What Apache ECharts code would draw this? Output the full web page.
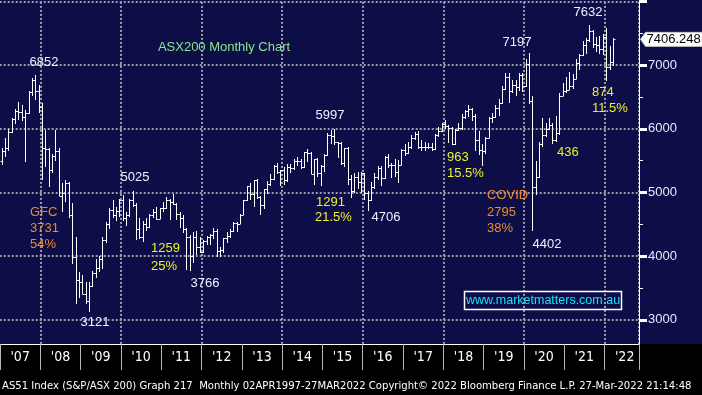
<!DOCTYPE html>
<html><head><meta charset="utf-8">
<script src="https://cdn.jsdelivr.net/npm/echarts@6/dist/echarts.min.js"></script>
<style>html,body{margin:0;padding:0;background:#000;}#c{width:702px;height:395px;}</style>
</head><body><div id="c"></div>
<script>
// ---- data (ASX200 monthly OHLC, Jan 2007 - Mar 2022) ----
const firstYear = 2007;
const yearLabels = ["'07","'08","'09","'10","'11","'12","'13","'14","'15","'16","'17","'18","'19","'20","'21","'22"];
const yTickValues = [3000, 4000, 5000, 6000, 7000];
const opens = [
 5500,5650,5700,5950,6150,6280,6270,6180,6250,6580,6770,6600,
 6340,5700,5680,5350,5580,5650,4950,5000,5150,4650,3980,3620,
 3590,3400,3300,3530,3740,3810,3950,4250,4500,4720,4650,4710,
 4880,4600,4640,4890,4810,4420,4300,4500,4460,4640,4690,4580,
 4750,4750,4880,4850,4820,4660,4600,4420,4300,4010,4300,4150,
 4060,4240,4300,4340,4400,4080,4090,4280,4320,4390,4520,4510,
 4650,4880,5100,4970,5190,4930,4800,5050,5140,5220,5420,5320,
 5350,5190,5400,5390,5490,5490,5400,5630,5620,5290,5520,5310,
 5410,5590,5900,5890,5790,5780,5460,5700,5210,5020,5240,5170,
 5300,5000,4880,5080,5250,5380,5230,5560,5430,5440,5320,5440,
 5670,5620,5710,5860,5920,5720,5720,5720,5710,5680,5910,5970,
 6070,6040,6020,5760,5980,6010,6190,6280,6320,6210,5830,5670,
 5650,5860,6170,6180,6330,6400,6620,6810,6600,6690,6660,6850,
 6680,7020,6440,5080,5240,5760,5900,6000,6060,5820,5930,6520,
 6590,6610,6670,6790,7030,7160,7310,7390,7530,7330,7320,7260,
 7440,6970,7050
];
const highs = [
 5700,5850,6000,6170,6320,6420,6380,6300,6600,6800,6852,6690,
 6400,5980,5700,5600,5990,5700,5150,5200,5170,4840,4300,3750,
 3700,3600,3600,3760,3950,4000,4300,4540,4760,4890,4780,4900,
 4960,4690,4900,5025,4830,4600,4560,4600,4670,4740,4780,4760,
 4850,4930,4900,4980,4840,4700,4650,4440,4330,4380,4390,4300,
 4250,4320,4350,4450,4420,4140,4290,4380,4420,4530,4530,4670,
 4890,5110,5150,5190,5220,4950,5050,5180,5290,5440,5460,5350,
 5400,5450,5450,5530,5560,5520,5640,5680,5630,5520,5550,5440,
 5600,5940,5990,5997,5800,5790,5700,5720,5270,5310,5330,5320,
 5310,5020,5170,5300,5420,5420,5580,5610,5460,5520,5510,5680,
 5770,5800,5900,5950,5960,5820,5800,5780,5780,5920,6030,6100,
 6140,6060,6030,6000,6100,6230,6300,6370,6330,6230,5960,5760,
 5880,6190,6250,6380,6470,6680,6880,6880,6760,6760,6880,6870,
 7100,7197,6520,5500,5800,6170,6100,6170,6100,6200,6560,6720,
 6810,6900,6860,7100,7180,7380,7420,7632,7560,7440,7460,7490,
 7590,7300,7420
];
const lows = [
 5440,5560,5660,5940,6080,6140,6130,5480,6230,6520,6450,6250,
 5200,5400,5080,5300,5500,4950,4700,4850,4600,3880,3250,3350,
 3400,3250,3121,3520,3650,3750,3800,4200,4430,4600,4550,4620,
 4560,4480,4620,4780,4250,4270,4230,4400,4450,4600,4570,4580,
 4690,4740,4570,4800,4570,4450,4360,3790,3766,3900,4020,4050,
 4050,4180,4170,4270,3990,3990,4050,4210,4280,4380,4380,4500,
 4650,4870,4880,4780,4900,4650,4740,4970,5100,5200,5290,5100,
 5120,5170,5300,5350,5410,5370,5390,5480,5290,5120,5250,5110,
 5330,5580,5760,5750,5540,5440,5400,5120,4920,4990,5060,4990,
 4880,4706,4870,5060,5200,5100,5220,5390,5230,5250,5150,5430,
 5580,5600,5690,5830,5680,5660,5660,5680,5660,5670,5880,5950,
 6000,5780,5750,5740,5970,5990,6150,6190,6120,5650,5590,5410,
 5600,5860,6100,6170,6200,6390,6610,6400,6560,6520,6600,6580,
 6650,6390,4402,4960,5230,5710,5870,5990,5770,5790,5900,6520,
 6570,6610,6620,6780,6930,7150,7180,7370,7270,7200,7180,7160,
 6758,6930,6990
];
const closes = [
 5650,5700,5950,6150,6280,6270,6180,6250,6580,6770,6600,6340,
 5700,5680,5350,5580,5650,4950,5000,5150,4650,3980,3620,3590,
 3400,3300,3530,3740,3810,3950,4250,4500,4720,4650,4710,4880,
 4600,4640,4890,4810,4420,4300,4500,4460,4640,4690,4580,4750,
 4750,4880,4850,4820,4660,4600,4420,4300,4010,4300,4150,4060,
 4240,4300,4340,4400,4080,4090,4280,4320,4390,4520,4510,4650,
 4880,5100,4970,5190,4930,4800,5050,5140,5220,5420,5320,5350,
 5190,5400,5390,5490,5490,5400,5630,5620,5290,5520,5310,5410,
 5590,5900,5890,5790,5780,5460,5700,5210,5020,5240,5170,5300,
 5000,4880,5080,5250,5380,5230,5560,5430,5440,5320,5440,5670,
 5620,5710,5860,5920,5720,5720,5720,5710,5680,5910,5970,6070,
 6040,6020,5760,5980,6010,6190,6280,6320,6210,5830,5670,5650,
 5860,6170,6180,6330,6400,6620,6810,6600,6690,6660,6850,6680,
 7020,6440,5080,5240,5760,5900,6000,6060,5820,5930,6520,6590,
 6610,6670,6790,7030,7160,7310,7390,7530,7330,7320,7260,7440,
 6970,7050,7406.248
];
const lastPrice = 7406.248;

// ---- build series data ----
const ohlc = closes.map((c, i) => {
  const t = firstYear + (i + 0.5) / 12;   // month centre in decimal years
  return [t, opens[i], highs[i], lows[i], c];
});

const X_MIN = 2006, X_MAX = 2022.856;
const WHITE = '#eef2ff', YEL = '#eef02a', ORG = '#f08a26', GRN = '#8fe48f';
const F = '"Liberation Sans", Arial, sans-serif';

function txt(text, x, y, color, align) {
  return { type: 'text', x: x, y: y, z: 20,
    style: { text: text, fill: color, font: '13px ' + F,
      textAlign: align || 'center', align: align || 'center',
      textVerticalAlign: 'middle', verticalAlign: 'middle' } };
}

const chart = echarts.init(document.getElementById('c'), null, { renderer: 'canvas' });
chart.setOption({
  animation: false,
  backgroundColor: '#0d0d47',
  grid: { left: -40.3, top: -62.1, width: 679.3, height: 445.6, containLabel: false, outerBoundsMode: 'none' },
  xAxis: [
    { type: 'value', min: X_MIN, max: X_MAX, interval: 1, position: 'bottom', offset: -39.5, z: 10,
      axisLine: { show: true, lineStyle: { color: '#ffffff', width: 1 } },
      axisTick: { show: true, length: 26, lineStyle: { color: '#b8b8b8', width: 1 } },
      splitLine: { show: false },
      axisLabel: { show: true, color: '#ffffff', fontSize: 14, fontFamily: '"Liberation Sans Narrow", "DejaVu Sans Condensed", sans-serif',
        margin: 6, padding: [0, 0, 0, 40.3],
        formatter: v => { const k = Math.round(v - firstYear); return (Math.abs(v - Math.round(v)) < 1e-6 && k >= 0 && k < yearLabels.length) ? yearLabels[k] : ''; } } },
    { type: 'value', min: X_MIN, max: X_MAX, interval: 2, position: 'bottom', z: 0,
      axisLine: { show: false }, axisTick: { show: false }, axisLabel: { show: false },
      splitLine: { show: true, lineStyle: { color: '#9c9ca6', width: 2, type: [2, 2] } } }
  ],
  yAxis: [{
    type: 'value', position: 'right', min: 2000, max: 9000, interval: 1000, z: 1,
    axisLine: { show: true, lineStyle: { color: '#ffffff', width: 1 } },
    axisTick: { show: true, length: 8, lineStyle: { color: '#ffffff', width: 3 } },
    minorTick: { show: true, splitNumber: 2, length: 4, lineStyle: { color: '#ffffff', width: 1 } },
    splitLine: { show: true, lineStyle: { color: '#9c9ca6', width: 2, type: [2, 2] } },
    axisLabel: { show: true, color: '#e4eaff', fontSize: 13, fontFamily: F, margin: 9,
      formatter: v => yTickValues.indexOf(v) >= 0 ? String(v) : '' }
  }],
  graphic: { elements: [
    { type: 'rect', z: 5, shape: { x: 0, y: 344, width: 702, height: 51 }, style: { fill: '#000000' } },
    { type: 'text', z: 20, x: 2, y: 386,
      style: { text: 'AS51 Index (S&P/ASX 200) Graph 217  Monthly 02APR1997-27MAR2022 Copyright\u00a9 2022 Bloomberg Finance L.P. 27-Mar-2022 21:14:48',
        fill: '#ffffff', font: '11.2px "Liberation Sans Narrow", "DejaVu Sans Condensed", sans-serif',
        textAlign: 'left', align: 'left', textVerticalAlign: 'middle', verticalAlign: 'middle' } },
    txt('ASX200 Monthly Chart', 224, 47, GRN),
    txt('6852', 44, 62, WHITE),
    txt('5025', 135, 177, WHITE),
    txt('GFC', 30, 212, ORG, 'left'), txt('3731', 30, 228, ORG, 'left'), txt('54%', 30, 244, ORG, 'left'),
    txt('1259', 151, 248, YEL, 'left'), txt('25%', 151, 266, YEL, 'left'),
    txt('3766', 205, 283, WHITE),
    txt('3121', 95, 322, WHITE),
    txt('5997', 330, 115, WHITE),
    txt('1291', 316, 202, YEL, 'left'), txt('21.5%', 315, 217, YEL, 'left'),
    txt('4706', 386, 217, WHITE),
    txt('963', 447, 157, YEL, 'left'), txt('15.5%', 447, 173, YEL, 'left'),
    txt('7197', 517, 42, WHITE),
    txt('7632', 588, 12, WHITE),
    txt('874', 592, 92, YEL, 'left'), txt('11.5%', 592, 108, YEL, 'left'),
    txt('436', 557, 152, YEL, 'left'),
    txt('COVID', 487, 195, ORG, 'left'), txt('2795', 487, 212, ORG, 'left'), txt('38%', 487, 228, ORG, 'left'),
    txt('4402', 547, 244, WHITE),
    { type: 'rect', z: 20, shape: { x: 464.5, y: 291.5, width: 157, height: 18 }, style: { fill: 'none', stroke: '#ffffff', lineWidth: 1.5 } },
    { type: 'text', z: 21, x: 543, y: 300.5, style: { text: 'www.marketmatters.com.au', fill: '#18e0f8', font: '12.5px ' + F,
        textAlign: 'center', align: 'center', textVerticalAlign: 'middle', verticalAlign: 'middle' } }
  ] },
  series: [
    { type: 'custom', name: 'ASX200', xAxisIndex: 0, yAxisIndex: 0, z: 2,
      encode: { x: 0, y: [1, 2, 3, 4] },
      data: ohlc,
      renderItem: function (params, api) {
        const x = api.value(0);
        const pH = api.coord([x, api.value(2)]);
        const pL = api.coord([x, api.value(3)]);
        const pO = api.coord([x, api.value(1)]);
        const pC = api.coord([x, api.value(4)]);
        const px = Math.round(pH[0]) + 0.5;
        const yo = Math.round(pO[1]) + 0.5, yc = Math.round(pC[1]) + 0.5;
        const st = { stroke: '#ffffff', lineWidth: 1 };
        return { type: 'group', children: [
          { type: 'line', shape: { x1: px, y1: Math.round(pH[1]), x2: px, y2: Math.round(pL[1]) }, style: st },
          { type: 'line', shape: { x1: px - 2, y1: yo, x2: px, y2: yo }, style: st },
          { type: 'line', shape: { x1: px, y1: yc, x2: px + 2, y2: yc }, style: st }
        ] };
      } },
    { type: 'custom', name: 'last', xAxisIndex: 0, yAxisIndex: 0, z: 30,
      encode: { x: 0, y: 1 },
      data: [[X_MAX, lastPrice]],
      renderItem: function (params, api) {
        const p = api.coord([api.value(0), api.value(1)]);
        const tx = p[0] + 1.5, ty = p[1];
        return { type: 'group', children: [
          { type: 'polygon', shape: { points: [[tx, ty], [tx + 5, ty - 7], [tx + 64, ty - 7], [tx + 64, ty + 7], [tx + 5, ty + 7]] },
            style: { fill: '#ffffff', stroke: '#c8c8c8', lineWidth: 1 } },
          { type: 'text', x: tx + 6, y: ty + 0.5, style: { text: String(api.value(1)), fill: '#000000', font: '13px ' + F,
              align: 'left', textAlign: 'left', verticalAlign: 'middle', textVerticalAlign: 'middle' } }
        ] };
      } }
  ]
});
</script>
</body></html>
